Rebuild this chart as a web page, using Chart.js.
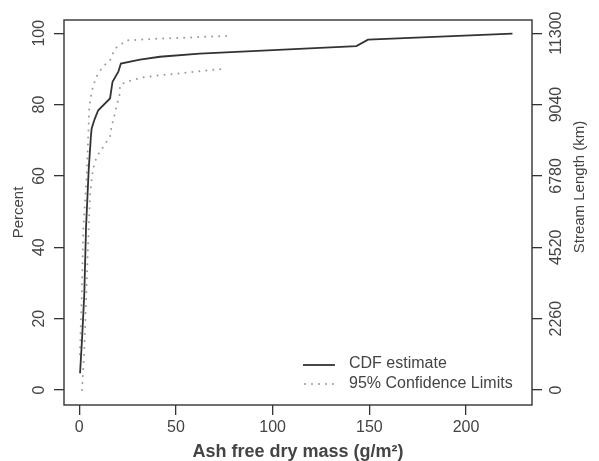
<!DOCTYPE html>
<html>
<head>
<meta charset="utf-8">
<script src="https://cdn.jsdelivr.net/npm/chart.js@4/dist/chart.umd.min.js"></script>
<style>
  html, body { margin: 0; padding: 0; background: #fff; }
  #wrap { width: 599px; height: 461px; }
</style>
</head>
<body>
<div id="wrap"><canvas id="cdfChart" width="599" height="461"></canvas></div>
<script>
// CDF estimate (x = ash free dry mass, y = percent)
var cdfX = [0.4, 1.5, 2.6, 3.5, 4.3, 4.9, 6.0, 6.4, 8.0, 9.8, 15.9, 17.2, 20.2, 21.5, 31.4, 41.7, 62.3, 143.3, 149.3, 224];
var cdfY = [4.7, 15, 27, 45.7, 55, 62, 71, 73.3, 76, 78.4, 81.7, 86.4, 89.2, 91.5, 92.6, 93.4, 94.3, 96.4, 98.2, 99.9];
// 95% confidence limits
var upperX = [0.3, 1.3, 2.1, 3.8, 5.2, 6.4, 8.6, 12.1, 15.9, 18.4, 24.5, 41.7, 76.1];
var upperY = [10, 27, 45.7, 59.7, 79.4, 83.6, 87.6, 90.6, 92.4, 95.7, 98, 98.5, 99.2];
var lowerX = [1.4, 2.5, 3.5, 4.5, 5.6, 7.0, 9.0, 12.4, 15.9, 16.7, 20.1, 21.0, 21.0, 24.5, 33.0, 41.7, 76.1];
var lowerY = [0, 10, 25, 40, 55, 61.6, 65.4, 68.2, 71, 73.8, 81.2, 83.1, 85.4, 86.4, 87.6, 88.2, 90.1];
// axis ticks
var xTicks = [0, 50, 100, 150, 200];
var pctTicks = [0, 20, 40, 60, 80, 100];
var kmTicks = [0, 2260, 4520, 6780, 9040, 11300];
var kmPerPct = 113;

function pts(xs, ys) {
  return xs.map(function(x, i) { return {x: x, y: ys[i]}; });
}

var FONT = "'Liberation Sans', Arial, sans-serif";
var TXT = '#444';
var AX = '#333';

// box, legend and right-hand title
var extras = {
  id: 'extras',
  afterDraw: function(chart) {
    var ctx = chart.ctx, a = chart.chartArea;
    ctx.save();
    ctx.strokeStyle = AX;
    ctx.lineWidth = 1.4;
    ctx.strokeRect(a.left, a.top, a.right - a.left, a.bottom - a.top);

    // legend
    ctx.lineWidth = 1.8;
    ctx.strokeStyle = '#333';
    ctx.beginPath(); ctx.moveTo(303, 365); ctx.lineTo(335, 365); ctx.stroke();
    ctx.strokeStyle = '#999';
    ctx.lineWidth = 2;
    ctx.lineCap = 'round';
    ctx.setLineDash([0, 7]);
    ctx.beginPath(); ctx.moveTo(305, 384); ctx.lineTo(335, 384); ctx.stroke();
    ctx.setLineDash([]);
    ctx.fillStyle = TXT;
    ctx.font = '16px ' + FONT;
    ctx.textBaseline = 'middle';
    ctx.textAlign = 'left';
    ctx.fillText('CDF estimate', 349, 364);
    ctx.fillText('95% Confidence Limits', 349, 384);

    // right axis title
    ctx.translate(580, 187);
    ctx.rotate(-Math.PI / 2);
    ctx.textAlign = 'center';
    ctx.font = '15px ' + FONT;
    ctx.fillText('Stream Length (km)', 0, 0);
    ctx.restore();
  }
};

var tickGrid = { display: true, drawOnChartArea: false, drawTicks: true, tickLength: 10, color: AX, lineWidth: 1.3 };
function plain(v) { return String(v); }

new Chart(document.getElementById('cdfChart').getContext('2d'), {
  type: 'scatter',
  data: {
    datasets: [
      { label: 'CDF estimate', data: pts(cdfX, cdfY), showLine: true, borderColor: '#333', borderWidth: 1.8, pointRadius: 0, tension: 0 },
      { label: 'upper', data: pts(upperX, upperY), showLine: true, borderColor: '#999', borderWidth: 2, borderDash: [0, 7], borderCapStyle: 'round', pointRadius: 0 },
      { label: 'lower', data: pts(lowerX, lowerY), showLine: true, borderColor: '#999', borderWidth: 2, borderDash: [0, 7], borderCapStyle: 'round', pointRadius: 0 }
    ]
  },
  options: {
    responsive: false,
    animation: false,
    layout: { padding: { top: 20, left: 0, right: 0, bottom: 0 } },
    plugins: { legend: { display: false }, tooltip: { enabled: false } },
    scales: {
      x: {
        type: 'linear', position: 'bottom', min: -7.9, max: 234.1,
        afterBuildTicks: function(s) { s.ticks = xTicks.map(function(v) { return {value: v}; }); },
        afterFit: function(s) { s.height = 56; },
        grid: tickGrid,
        border: { display: false },
        ticks: { color: TXT, font: { family: FONT, size: 16 }, padding: 3, maxRotation: 0, callback: plain },
        title: { display: true, text: 'Ash free dry mass (g/m²)', color: TXT, font: { family: FONT, size: 18, weight: 'bold', lineHeight: 1 }, padding: 0 }
      },
      y: {
        type: 'linear', position: 'left', min: -4.2, max: 103.7,
        afterBuildTicks: function(s) { s.ticks = pctTicks.map(function(v) { return {value: v}; }); },
        afterFit: function(s) { s.width = 64; },
        grid: tickGrid,
        border: { display: false },
        ticks: { color: TXT, font: { family: FONT, size: 16 }, padding: 1, minRotation: 90, maxRotation: 90, crossAlign: 'center', callback: plain },
        title: { display: true, text: 'Percent', color: TXT, font: { family: FONT, size: 15 }, padding: { top: 10, bottom: 0 } }
      },
      y2: {
        type: 'linear', position: 'right', min: -4.2 * kmPerPct, max: 103.7 * kmPerPct,
        afterBuildTicks: function(s) { s.ticks = kmTicks.map(function(v) { return {value: v}; }); },
        afterFit: function(s) { s.width = 67; },
        grid: tickGrid,
        border: { display: false },
        ticks: { color: TXT, font: { family: FONT, size: 16 }, padding: -7, minRotation: 90, maxRotation: 90, crossAlign: 'center', callback: plain }
      }
    }
  },
  plugins: [extras]
});
</script>
</body>
</html>
